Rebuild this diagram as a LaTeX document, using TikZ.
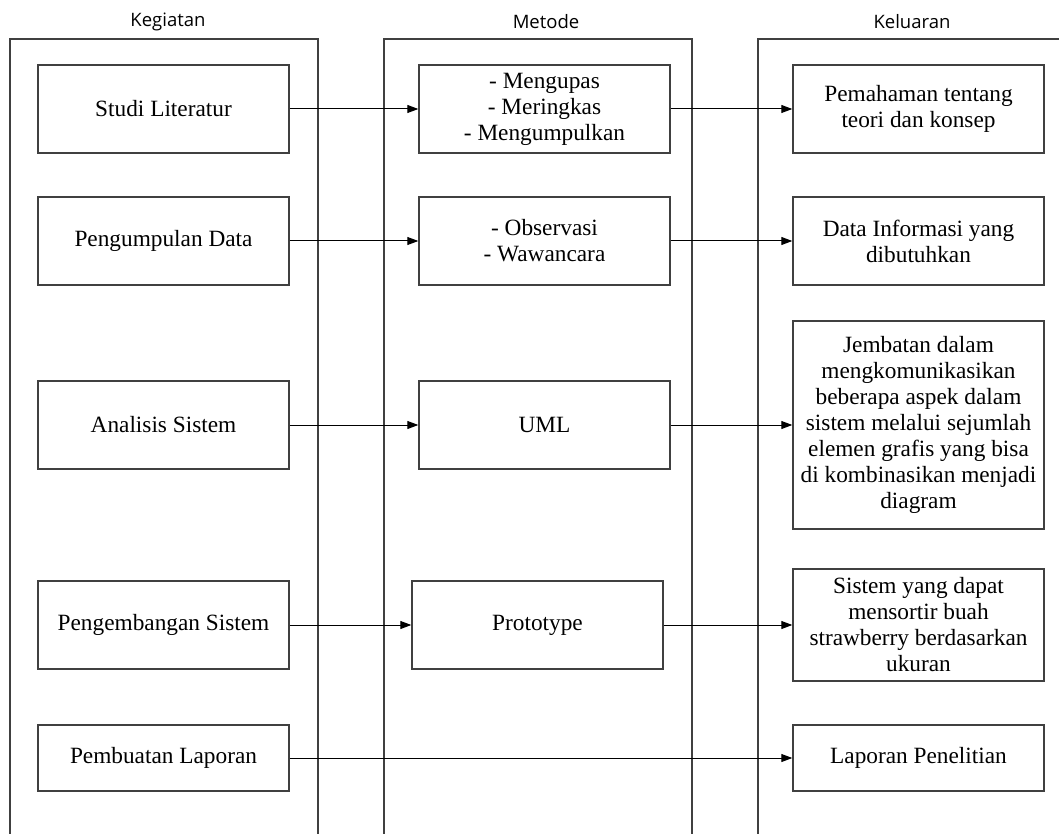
\documentclass[tikz,border=0pt]{standalone}
\usepackage{fontspec}
\setmainfont{Liberation Serif}
\newfontfamily\headfont{Open Sans}
\usetikzlibrary{arrows.meta}
\definecolor{linegray}{HTML}{404040}
\tikzset{
  colframe/.style={draw=linegray, line width=1.4pt},
  box/.style={draw=linegray, line width=1.4pt, rectangle, minimum width=251pt, minimum height=88pt, align=center, inner sep=0pt, font=\fontsize{23.3}{26}\selectfont},
  head/.style={font=\headfont\fontsize{18.5}{22}\selectfont, inner sep=0pt},
  arr/.style={draw=black, line width=1pt, -{Triangle[length=11pt,width=8pt]}}
}
\begin{document}
\begin{tikzpicture}[x=1pt,y=-1pt]
\useasboundingbox (0,0) rectangle (1059,834);
% column frames
\draw[colframe] (10,836) -- (10,39) -- (318,39) -- (318,836);
\draw[colframe] (384,836) -- (384,39) -- (692,39) -- (692,836);
\draw[colframe] (758,836) -- (758,39) -- (1062,39);
% headers
\node[head] (h1) at (168,22) {Kegiatan};
\node[head] (h2) at (546,22) {Metode};
\node[head] (h3) at (912,22) {Keluaran};
% kegiatan
\node[box] (k1) at (163.5,109) {Studi Literatur};
\node[box] (k2) at (163.5,241) {Pengumpulan Data};
\node[box] (k3) at (163.5,425) {Analisis Sistem};
\node[box] (k4) at (163.5,625) {Pengembangan Sistem};
\node[box, minimum height=66pt] (k5) at (163.5,758) {Pembuatan Laporan};
% metode
\node[box] (m1) at (544.5,109) {- Mengupas\\- Meringkas\\- Mengumpulkan};
\node[box] (m2) at (544.5,241) {- Observasi\\- Wawancara};
\node[box] (m3) at (544.5,425) {UML};
\node[box] (m4) at (537.5,625) {Prototype};
% keluaran
\node[box] (o1) at (918.5,109) {Pemahaman tentang\\teori dan konsep};
\node[box] (o2) at (918.5,241) {Data Informasi yang\\dibutuhkan};
\node[box, minimum height=208pt] (o3) at (918.5,425) {Jembatan dalam\\mengkomunikasikan\\beberapa aspek dalam\\sistem melalui sejumlah\\elemen grafis yang bisa\\di kombinasikan menjadi\\diagram};
\node[box, minimum height=112pt] (o4) at (918.5,625) {Sistem yang dapat\\mensortir buah\\strawberry berdasarkan\\ukuran};
\node[box, minimum height=66pt] (o5) at (918.5,758) {Laporan Penelitian};
% arrows
\draw[arr] (k1) -- (m1);
\draw[arr] (m1) -- (o1);
\draw[arr] (k2) -- (m2);
\draw[arr] (m2) -- (o2);
\draw[arr] (k3) -- (m3);
\draw[arr] (m3) -- (o3);
\draw[arr] (k4) -- (m4);
\draw[arr] (m4) -- (o4);
\draw[arr] (k5) -- (o5);
\end{tikzpicture}
\end{document}
